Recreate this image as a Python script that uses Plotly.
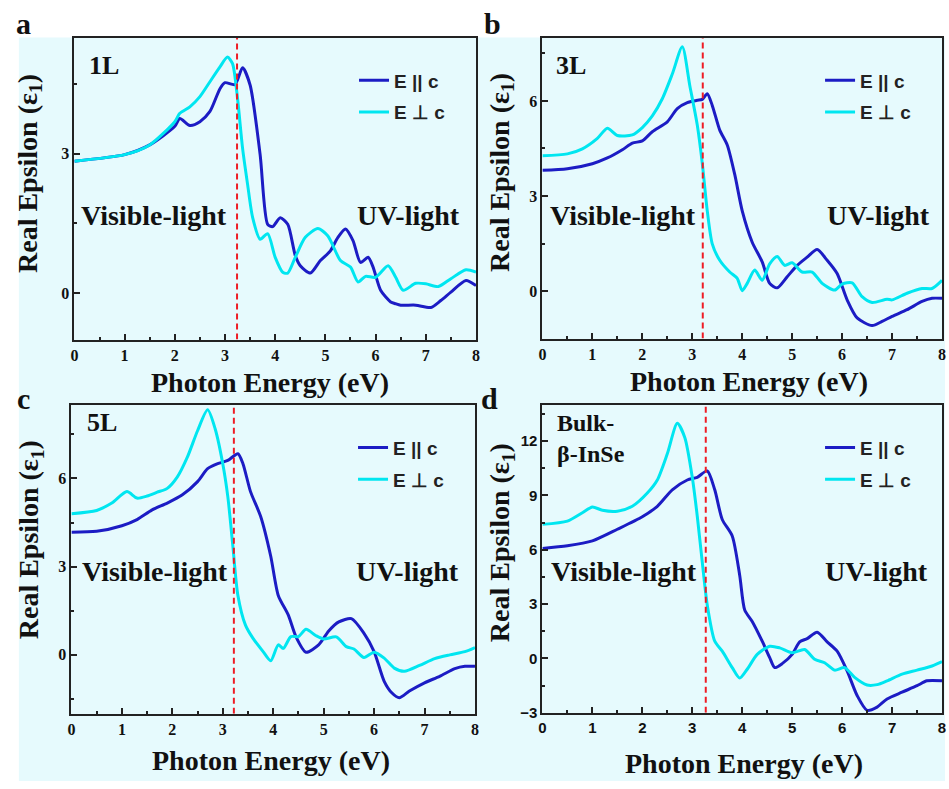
import plotly.graph_objects as go

W, H = 949, 789

# ---------------- data ----------------
# Panel a: 1L
x_1L_par = [0, 1.0, 1.5, 2.0, 2.1, 2.3, 2.5, 2.7, 2.9, 3.0, 3.2, 3.35, 3.5, 3.7, 3.85, 3.95, 4.1, 4.25, 4.4, 4.5,
            4.7, 4.9, 5.1, 5.25, 5.4, 5.55, 5.7, 5.85, 5.95, 6.1, 6.3, 6.4, 6.5, 6.8, 7.1, 7.3, 7.5, 7.8, 8.0]
y_1L_par = [2.84, 2.98, 3.19, 3.59, 3.76, 3.61, 3.69, 3.91, 4.40, 4.53, 4.49, 4.85, 4.48, 2.98, 1.48, 1.43, 1.62,
            1.48, 0.81, 0.59, 0.43, 0.70, 0.91, 1.20, 1.38, 1.13, 0.66, 0.77, 0.56, 0.06, -0.19, -0.23, -0.26,
            -0.26, -0.31, -0.16, 0.02, 0.27, 0.16]
x_1L_perp = [0, 1.0, 1.5, 2.0, 2.1, 2.3, 2.5, 2.7, 2.9, 3.05, 3.15, 3.25, 3.35, 3.45, 3.55, 3.7, 3.85, 4.0, 4.15,
             4.25, 4.4, 4.6, 4.85, 5.05, 5.3, 5.5, 5.65, 5.8, 6.0, 6.25, 6.4, 6.55, 6.8, 7.0, 7.25, 7.5, 7.8, 8.0]
y_1L_perp = [2.84, 2.98, 3.19, 3.69, 3.87, 4.01, 4.23, 4.55, 4.87, 5.08, 4.94, 4.19, 3.12, 2.34, 1.63, 1.16, 1.28,
             0.77, 0.45, 0.43, 0.77, 1.20, 1.39, 1.23, 0.70, 0.56, 0.24, 0.36, 0.34, 0.59, 0.34, 0.06, 0.21, 0.20,
             0.14, 0.31, 0.50, 0.45]

# Panel b: 3L
x_3L_par = [0, 0.5, 1.0, 1.3, 1.6, 1.8, 2.0, 2.2, 2.5, 2.7, 2.9, 3.1, 3.2, 3.3, 3.4, 3.55, 3.7, 3.85, 4.0, 4.2,
            4.4, 4.55, 4.7, 4.9, 5.1, 5.3, 5.5, 5.7, 5.9, 6.1, 6.3, 6.6, 6.8, 7.0, 7.3, 7.6, 7.8, 8.0]
y_3L_par = [3.81, 3.86, 4.02, 4.20, 4.46, 4.67, 4.74, 5.03, 5.34, 5.76, 5.95, 6.02, 6.05, 6.23, 5.86, 5.08, 4.61,
            3.68, 2.53, 1.54, 0.92, 0.24, 0.10, 0.45, 0.81, 1.07, 1.31, 0.97, 0.55, -0.28, -0.85, -1.09, -0.96,
            -0.80, -0.59, -0.33, -0.23, -0.23]
x_3L_perp = [0, 0.5, 0.8, 1.1, 1.3, 1.5, 1.8, 2.0, 2.2, 2.4, 2.6, 2.8, 2.95, 3.1, 3.2, 3.3, 3.4, 3.55, 3.75, 3.9,
             4.0, 4.1, 4.25, 4.4, 4.55, 4.7, 4.85, 5.0, 5.2, 5.4, 5.6, 5.85, 6.0, 6.2, 6.4, 6.6, 6.9, 7.0, 7.3,
             7.6, 7.8, 8.0]
y_3L_perp = [4.27, 4.33, 4.49, 4.82, 5.14, 4.91, 4.93, 5.16, 5.53, 6.07, 6.85, 7.71, 6.49, 5.24, 4.04, 2.53, 1.49,
             0.97, 0.60, 0.40, 0.01, 0.24, 0.66, 0.34, 0.86, 1.09, 0.81, 0.89, 0.60, 0.60, 0.24, 0.03, 0.22, 0.26,
             -0.18, -0.36, -0.26, -0.28, -0.07, 0.08, 0.08, 0.34]

# Panel c: 5L
x_5L_par = [0, 0.5, 1.0, 1.3, 1.6, 1.9, 2.2, 2.5, 2.7, 2.9, 3.1, 3.3, 3.4, 3.55, 3.75, 3.95, 4.1, 4.3, 4.45, 4.65,
            4.9, 5.1, 5.3, 5.55, 5.8, 6.0, 6.2, 6.35, 6.5, 6.7, 7.0, 7.3, 7.6, 7.8, 8.0]
y_5L_par = [4.17, 4.20, 4.39, 4.60, 4.93, 5.16, 5.44, 5.89, 6.33, 6.50, 6.61, 6.84, 6.50, 5.55, 4.71, 3.36, 2.02,
            1.35, 0.62, 0.09, 0.34, 0.81, 1.12, 1.23, 0.73, 0.11, -0.90, -1.29, -1.46, -1.23, -0.95, -0.73, -0.47,
            -0.39, -0.39]
x_5L_perp = [0, 0.5, 0.8, 1.1, 1.3, 1.5, 1.7, 1.9, 2.1, 2.3, 2.5, 2.7, 2.85, 3.0, 3.1, 3.2, 3.3, 3.45, 3.6, 3.8,
             3.95, 4.1, 4.2, 4.35, 4.5, 4.65, 4.85, 5.0, 5.25, 5.45, 5.6, 5.8, 6.0, 6.2, 6.4, 6.6, 6.9, 7.2, 7.5,
             7.8, 8.0]
y_5L_perp = [4.80, 4.91, 5.16, 5.55, 5.33, 5.40, 5.53, 5.66, 6.05, 6.73, 7.62, 8.33, 7.68, 6.50, 5.38, 3.70, 2.02,
             1.01, 0.56, 0.11, -0.20, 0.34, 0.22, 0.62, 0.62, 0.87, 0.65, 0.54, 0.61, 0.28, 0.20, -0.09, 0.09,
             -0.11, -0.45, -0.56, -0.36, -0.13, 0.00, 0.11, 0.25]

# Panel d: Bulk beta-InSe
x_bulk_par = [0, 0.5, 1.0, 1.5, 2.0, 2.3, 2.6, 2.9, 3.1, 3.3, 3.45, 3.6, 3.8, 3.95, 4.05, 4.2, 4.4, 4.55, 4.65,
              4.8, 5.0, 5.15, 5.3, 5.5, 5.7, 5.9, 6.1, 6.3, 6.5, 6.7, 6.9, 7.2, 7.5, 7.7, 8.0]
y_bulk_par = [6.07, 6.22, 6.49, 7.13, 7.82, 8.40, 9.31, 9.85, 10.0, 10.35, 9.31, 7.67, 6.76, 4.58, 2.67, 2.04,
              0.95, 0.04, -0.51, -0.29, 0.22, 0.91, 1.09, 1.44, 0.91, 0.40, -0.69, -2.05, -2.87, -2.69, -2.24,
              -1.87, -1.51, -1.24, -1.24]
x_bulk_perp = [0, 0.5, 0.8, 1.0, 1.2, 1.5, 1.8, 2.1, 2.3, 2.5, 2.7, 2.85, 3.0, 3.1, 3.2, 3.3, 3.45, 3.6, 3.8,
               3.95, 4.1, 4.3, 4.55, 4.75, 5.0, 5.25, 5.45, 5.65, 5.85, 6.05, 6.25, 6.5, 6.7, 6.9, 7.2, 7.5,
               7.8, 8.0]
y_bulk_perp = [7.40, 7.58, 8.04, 8.36, 8.18, 8.13, 8.40, 9.13, 9.85, 11.3, 12.98, 12.2, 10.0, 7.85, 5.31, 2.95,
               0.95, 0.40, -0.51, -1.09, -0.60, 0.22, 0.67, 0.58, 0.31, 0.49, -0.05, -0.24, -0.65, -0.51, -1.05,
               -1.47, -1.45, -1.24, -0.87, -0.65, -0.42, -0.18]

panel_letters = ["a", "b", "c", "d"]
panel_names = ["1L", "3L", "5L", "Bulk-<br>β-InSe"]
y_ranges = [[-1, 5.5], [-1.5, 8], [-2, 8.5], [-3, 14]]
gap_energy = [3.24, 3.21, 3.22, 3.27]
series_names = ["E || c", "E ⊥ c"]

panels = [
    (x_1L_par, y_1L_par, x_1L_perp, y_1L_perp),
    (x_3L_par, y_3L_par, x_3L_perp, y_3L_perp),
    (x_5L_par, y_5L_par, x_5L_perp, y_5L_perp),
    (x_bulk_par, y_bulk_par, x_bulk_perp, y_bulk_perp),
]

# ---------------- layout geometry (pixels) ----------------
plot_boxes = [  # left, top, right, bottom
    (71, 38, 476, 343),
    (543, 38, 946, 342),
    (68, 409, 475, 721),
    (543, 409, 946, 720),
]

BG = "#e6fafd"
BLUE = "#1c1cc4"
CYAN = "#00e6f0"
SERIF = "Liberation Serif"
SANS = "Liberation Sans"


def px(xp):
    return xp / W


def py(yp):
    return 1 - yp / H


fig = go.Figure()
layout = dict()
annotations = []

for i, (xa, ya, xb, yb) in enumerate(panels):
    n = "" if i == 0 else str(i + 1)
    xref = "x" + n
    yref = "y" + n
    leg = "legend" + n
    fig.add_trace(go.Scatter(x=xa, y=ya, mode="lines", name=series_names[0],
                             line=dict(color=BLUE, width=3, shape="spline", smoothing=0.7),
                             xaxis=xref, yaxis=yref, legend=leg, legendgroup=f"g{i}a"))
    fig.add_trace(go.Scatter(x=xb, y=yb, mode="lines", name=series_names[1],
                             line=dict(color=CYAN, width=3, shape="spline", smoothing=0.7),
                             xaxis=xref, yaxis=yref, legend=leg, legendgroup=f"g{i}b"))
    fig.add_trace(go.Scatter(x=[gap_energy[i], gap_energy[i]], y=y_ranges[i], mode="lines",
                             line=dict(color="#ee1c25", width=2, dash="6px,4px"),
                             xaxis=xref, yaxis=yref, showlegend=False, hoverinfo="skip"))

    l, t, r, b = plot_boxes[i]
    tickfam = SANS if i == 3 else SERIF
    tsize = 15 if i == 3 else 16
    layout["xaxis" + n] = dict(
        domain=[px(l), px(r)], anchor=yref, range=[0, 8], dtick=1, tick0=0,
        ticks="inside", ticklen=6, tickwidth=2, tickcolor="#222",
        minor=dict(dtick=0.5, ticks="inside", ticklen=3, tickwidth=2, tickcolor="#222"),
        showline=True, mirror=True, linewidth=2, linecolor="#222",
        showgrid=False, zeroline=False,
        tickfont=dict(family=tickfam, size=tsize, color="#111", weight="bold"),
    )
    layout["yaxis" + n] = dict(
        domain=[py(b), py(t)], anchor=xref, range=y_ranges[i], dtick=3, tick0=0,
        ticks="inside", ticklen=6, tickwidth=2, tickcolor="#222",
        minor=dict(dtick=1.5, ticks="inside", ticklen=3, tickwidth=2, tickcolor="#222"),
        showline=True, mirror=True, linewidth=2, linecolor="#222",
        showgrid=False, zeroline=False,
        tickfont=dict(family=tickfam, size=tsize, color="#111", weight="bold"),
    )
    layout[leg] = dict(
        x=px(r - 123), y=py(t + 24), xanchor="left", yanchor="top",
        bgcolor="rgba(0,0,0,0)", borderwidth=0,
        font=dict(family=SANS, size=19, color="#222", weight="bold"),
        tracegroupgap=4, itemwidth=30,
    )

# axis titles and texts
ytitle_pos = [(25, 175), (501, 174), (27, 545), (502, 548)]
xtitle_pos = [(268, 386), (751, 385), (269, 768), (746, 771)]
letter_pos = [(20, 24), (493, 24), (20, 403), (490, 403)]
name_pos = [(84, 66), (555, 66), (82, 427), (556, 443)]
name_sizes = [26, 26, 26, 24]
vis_pos = [(151, 218), (624, 218), (152, 577), (625, 577)]
uv_pos = [(408, 218), (882, 218), (407, 577), (880, 577)]

for i in range(4):
    annotations.append(dict(text="Real Epsilon (ε<sub>1</sub>)", textangle=-90, showarrow=False,
                            x=px(ytitle_pos[i][0]), y=py(ytitle_pos[i][1]), xref="paper", yref="paper",
                            xanchor="center", yanchor="middle",
                            font=dict(family=SERIF, size=28, color="#111", weight="bold")))
    annotations.append(dict(text="Photon Energy (eV)", showarrow=False,
                            x=px(xtitle_pos[i][0]), y=py(xtitle_pos[i][1]), xref="paper", yref="paper",
                            xanchor="center", yanchor="middle",
                            font=dict(family=SERIF, size=28, color="#111", weight="bold")))
    annotations.append(dict(text=panel_letters[i], showarrow=False,
                            x=px(letter_pos[i][0]), y=py(letter_pos[i][1]), xref="paper", yref="paper",
                            xanchor="center", yanchor="middle",
                            font=dict(family=SERIF, size=30, color="#111", weight="bold")))
    annotations.append(dict(text=panel_names[i], showarrow=False, align="left",
                            x=px(name_pos[i][0]), y=py(name_pos[i][1]), xref="paper", yref="paper",
                            xanchor="left", yanchor="middle",
                            font=dict(family=SERIF, size=name_sizes[i], color="#111", weight="bold")))
    annotations.append(dict(text="Visible-light", showarrow=False,
                            x=px(vis_pos[i][0]), y=py(vis_pos[i][1]), xref="paper", yref="paper",
                            xanchor="center", yanchor="middle",
                            font=dict(family=SERIF, size=28, color="#111", weight="bold")))
    annotations.append(dict(text="UV-light", showarrow=False,
                            x=px(uv_pos[i][0]), y=py(uv_pos[i][1]), xref="paper", yref="paper",
                            xanchor="center", yanchor="middle",
                            font=dict(family=SERIF, size=28, color="#111", weight="bold")))

fig.update_layout(
    width=W, height=H, margin=dict(l=0, r=0, t=0, b=0),
    paper_bgcolor="white", plot_bgcolor=BG,
    showlegend=True, annotations=annotations,
    shapes=[dict(type="rect", xref="paper", yref="paper", x0=px(15), x1=1, y0=0, y1=py(38),
                 fillcolor=BG, line=dict(width=0), layer="below")],
    **layout,
)

fig.write_html("out.html")
